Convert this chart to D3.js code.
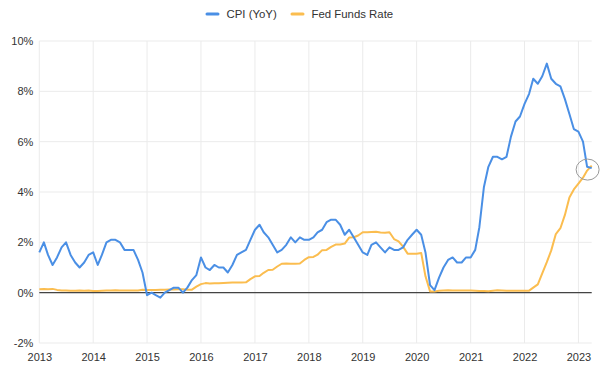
<!DOCTYPE html>
<html>
<head>
<meta charset="utf-8">
<script src="https://cdn.jsdelivr.net/npm/d3@7"></script>
<style>
  body { margin: 0; background: #fff; }
  text { font-family: "Liberation Sans", Arial, sans-serif; }
</style>
</head>
<body>
<div id="chart"></div>
<script>
// monthly data, Jan 2013 .. Apr 2023
let startMonth = "2013-01";
let cpiYoY = [
  1.6, 2.0, 1.5, 1.1, 1.4, 1.8, 2.0, 1.5, 1.2, 1.0, 1.2, 1.5,
  1.6, 1.1, 1.5, 2.0, 2.1, 2.1, 2.0, 1.7, 1.7, 1.7, 1.3, 0.8,
  -0.1, 0.0, -0.1, -0.2, 0.0, 0.1, 0.2, 0.2, 0.0, 0.2, 0.5, 0.7,
  1.4, 1.0, 0.9, 1.1, 1.0, 1.0, 0.8, 1.1, 1.5, 1.6, 1.7, 2.1,
  2.5, 2.7, 2.4, 2.2, 1.9, 1.6, 1.7, 1.9, 2.2, 2.0, 2.2, 2.1,
  2.1, 2.2, 2.4, 2.5, 2.8, 2.9, 2.9, 2.7, 2.3, 2.5, 2.2, 1.9,
  1.6, 1.5, 1.9, 2.0, 1.8, 1.6, 1.8, 1.7, 1.7, 1.8, 2.1, 2.3,
  2.5, 2.3, 1.6, 0.3, 0.1, 0.6, 1.0, 1.3, 1.4, 1.2, 1.2, 1.4,
  1.4, 1.7, 2.6, 4.2, 5.0, 5.4, 5.4, 5.3, 5.4, 6.2, 6.8, 7.0,
  7.5, 7.9, 8.5, 8.3, 8.6, 9.1, 8.5, 8.3, 8.2, 7.7, 7.1, 6.5,
  6.4, 6.0, 5.0, 4.95
];
let fedFunds = [
  0.14, 0.15, 0.14, 0.15, 0.11, 0.09, 0.09, 0.08, 0.08, 0.09, 0.08, 0.09,
  0.07, 0.07, 0.08, 0.09, 0.09, 0.10, 0.09, 0.09, 0.09, 0.09, 0.09, 0.12,
  0.11, 0.11, 0.11, 0.12, 0.12, 0.13, 0.13, 0.14, 0.14, 0.12, 0.12, 0.24,
  0.34, 0.38, 0.36, 0.37, 0.37, 0.38, 0.39, 0.40, 0.40, 0.40, 0.41, 0.54,
  0.65, 0.66, 0.79, 0.90, 0.91, 1.04, 1.15, 1.16, 1.15, 1.15, 1.16, 1.30,
  1.41, 1.42, 1.51, 1.69, 1.70, 1.82, 1.91, 1.91, 1.95, 2.19, 2.20, 2.27,
  2.40, 2.40, 2.41, 2.42, 2.39, 2.38, 2.40, 2.13, 2.04, 1.83, 1.55, 1.55,
  1.55, 1.58, 0.65, 0.05, 0.05, 0.08, 0.09, 0.10, 0.09, 0.09, 0.09, 0.09,
  0.09, 0.08, 0.07, 0.07, 0.06, 0.08, 0.10, 0.09, 0.08, 0.08, 0.08, 0.08,
  0.08, 0.08, 0.20, 0.33, 0.77, 1.21, 1.68, 2.33, 2.56, 3.08, 3.78, 4.10,
  4.33, 4.57, 4.85, 5.05
];
let yearTicks = [2013, 2014, 2015, 2016, 2017, 2018, 2019, 2020, 2021, 2022, 2023];
let yTicks = [-2, 0, 2, 4, 6, 8, 10];
let seriesNames = ["CPI (YoY)", "Fed Funds Rate"];
let seriesColors = ["#4a8fe5", "#fbbd4f"];

let svg_width = 605;
let svg_height = 380;
let margin = { top: 41, right: 13.3, bottom: 37, left: 39.3 };
let width = svg_width - margin.left - margin.right;
let height = svg_height - margin.top - margin.bottom;

let parseMonth = d3.timeParse("%Y-%m");
let t0 = parseMonth(startMonth);
let months = cpiYoY.map((d, i) => d3.timeMonth.offset(t0, i));

let svg = d3.select("#chart").append("svg")
  .attr("width", svg_width)
  .attr("height", svg_height);

let g = svg.append("g")
  .attr("transform", `translate(${margin.left}, ${margin.top})`);

let x = d3.scaleTime()
  .domain([months[0], months[months.length - 1]])
  .range([0, width]);
let y = d3.scaleLinear()
  .domain([-2, 10])
  .range([height, 0]);

// gridlines
g.selectAll(".hgrid").data(yTicks).enter().append("line")
  .attr("x1", 0).attr("x2", width)
  .attr("y1", d => y(d)).attr("y2", d => y(d))
  .attr("stroke", "#ebebeb").attr("stroke-width", 1);

g.selectAll(".vgrid").data(yearTicks).enter().append("line")
  .attr("x1", d => x(new Date(d, 0, 1))).attr("x2", d => x(new Date(d, 0, 1)))
  .attr("y1", 0).attr("y2", height)
  .attr("stroke", "#ebebeb").attr("stroke-width", 1);

// axes (labels only)
let xAxis = d3.axisBottom(x)
  .tickValues(yearTicks.map(d => new Date(d, 0, 1)))
  .tickFormat(d3.timeFormat("%Y"))
  .tickSize(0).tickPadding(10);
let yAxis = d3.axisLeft(y)
  .tickValues(yTicks)
  .tickFormat(d => d + "%")
  .tickSize(0).tickPadding(6);

g.append("g")
  .attr("transform", `translate(0, ${height})`)
  .call(xAxis)
  .call(a => a.select(".domain").remove())
  .selectAll("text")
  .attr("font-size", "11px")
  .attr("fill", "#333");

g.append("g")
  .call(yAxis)
  .call(a => a.select(".domain").remove())
  .selectAll("text")
  .attr("font-size", "11px")
  .attr("fill", "#333");

// zero baseline
g.append("line")
  .attr("x1", 0).attr("x2", width)
  .attr("y1", y(0)).attr("y2", y(0))
  .attr("stroke", "#444").attr("stroke-width", 1.3);

// lines
let line = d3.line()
  .x((d, i) => x(months[i]))
  .y(d => y(d));

[fedFunds, cpiYoY].forEach(function(series, k) {
  g.append("path")
    .datum(series)
    .attr("d", line)
    .attr("fill", "none")
    .attr("stroke", seriesColors[1 - k])
    .attr("stroke-width", 2)
    .attr("stroke-linejoin", "round");
});

// highlight circle around the crossing at the end
let last = cpiYoY.length - 1;
g.append("ellipse")
  .attr("cx", x(months[last - 1]) + 0.5)
  .attr("cy", y(cpiYoY[last]) + 1.5)
  .attr("rx", 11.5)
  .attr("ry", 10.5)
  .attr("fill", "none")
  .attr("stroke", "#999")
  .attr("stroke-width", 1);

// legend
let legendPos = [207, 292];
let legend = svg.append("g").attr("transform", "translate(0, 14)");
seriesNames.forEach(function(name, i) {
  legend.append("line")
    .attr("x1", legendPos[i]).attr("x2", legendPos[i] + 11)
    .attr("y1", 0).attr("y2", 0)
    .attr("stroke", seriesColors[i])
    .attr("stroke-width", 3)
    .attr("stroke-linecap", "round");
  legend.append("text")
    .attr("x", legendPos[i] + 19.5)
    .attr("y", 4)
    .attr("font-size", "11.4px")
    .attr("fill", "#333")
    .text(name);
});
</script>
</body>
</html>
